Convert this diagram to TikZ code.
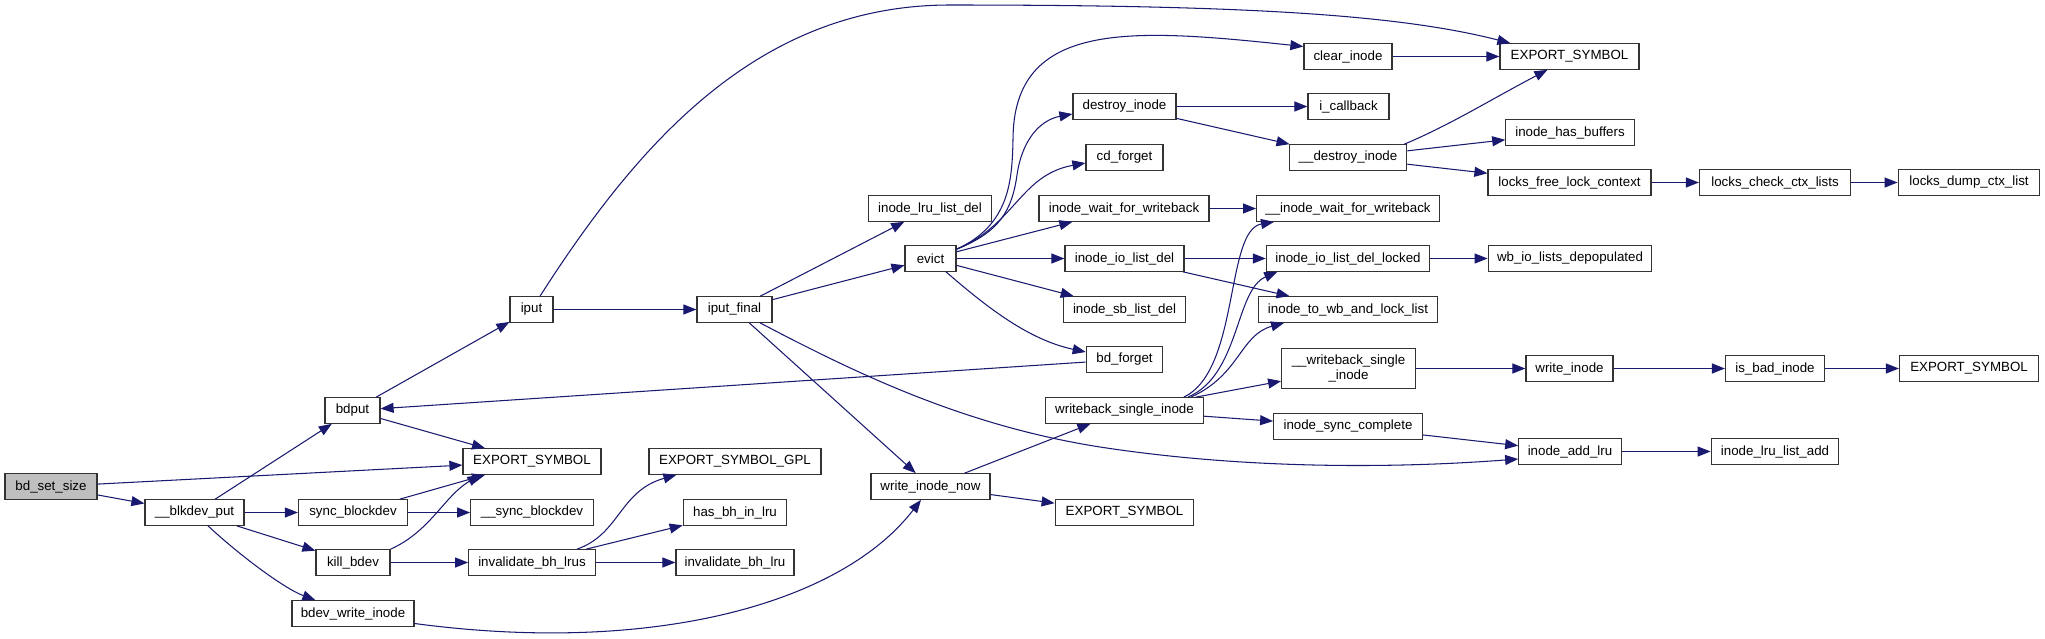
\documentclass[tikz,border=0pt]{standalone}
\usepackage{fontspec}
\setmainfont{Liberation Sans}
\usetikzlibrary{arrows.meta,calc}
\definecolor{edgec}{HTML}{191970}
\definecolor{boxc}{HTML}{333333}
\begin{document}
\begin{tikzpicture}[x=1pt,y=-1pt,
  box/.style={draw=boxc, line width=1.2pt, fill=white, inner sep=0pt,
    minimum height=25.5pt, align=center, font=\fontsize{13.33pt}{14.5pt}\selectfont},
  e/.style={draw=edgec, line width=1.05pt, -{Triangle[length=13pt,width=10pt]}}]
\useasboundingbox[fill=white] (0,0) rectangle (2045,638);
% nodes
\node[box,minimum width=92pt,fill=black!25] (bss) at (51,486.5) {bd\_set\_size};
\node[box,minimum width=99pt] (bkp) at (194.5,512.5) {\_\_blkdev\_put};
\node[box,minimum width=55pt] (bdp) at (352.5,410.5) {bdput};
\node[box,minimum width=43pt] (iput) at (531.5,309.5) {iput};
\node[box,minimum width=138pt] (exa) at (532,461.5) {EXPORT\_SYMBOL};
\node[box,minimum width=109pt] (syb) at (353,512.5) {sync\_blockdev};
\node[box,minimum width=122.5pt] (ssb) at (532,512.5) {\_\_sync\_blockdev};
\node[box,minimum width=74pt] (kbd) at (353,562.5) {kill\_bdev};
\node[box,minimum width=126.5pt] (ibls) at (532,562.5) {invalidate\_bh\_lrus};
\node[box,minimum width=122pt] (bwi) at (353,613.5) {bdev\_write\_inode};
\node[box,minimum width=75pt] (ipf) at (734.5,309.5) {iput\_final};
\node[box,minimum width=172pt] (esg) at (735,461.5) {EXPORT\_SYMBOL\_GPL};
\node[box,minimum width=103.5pt] (hbl) at (735,512.5) {has\_bh\_in\_lru};
\node[box,minimum width=118pt] (ibl) at (735,562.5) {invalidate\_bh\_lru};
\node[box,minimum width=122.5pt] (illd) at (930,208.5) {inode\_lru\_list\_del};
\node[box,minimum width=51pt] (evict) at (930.5,258.5) {evict};
\node[box,minimum width=119pt] (win) at (930.5,486.5) {write\_inode\_now};
\node[box,minimum width=103pt] (dsi) at (1124.5,106.5) {destroy\_inode};
\node[box,minimum width=77pt] (cdf) at (1124.5,157.5) {cd\_forget};
\node[box,minimum width=170pt] (iwfw) at (1124,208.5) {inode\_wait\_for\_writeback};
\node[box,minimum width=119pt] (iild) at (1124.5,258.5) {inode\_io\_list\_del};
\node[box,minimum width=122.5pt] (isld) at (1124.5,309.5) {inode\_sb\_list\_del};
\node[box,minimum width=76.5pt] (bdf) at (1124.5,359.5) {bd\_forget};
\node[box,minimum width=157.5pt] (wsi) at (1124.5,410.5) {writeback\_single\_inode};
\node[box,minimum width=138.6pt] (exb) at (1124.5,512.5) {EXPORT\_SYMBOL};
\node[box,minimum width=88pt] (cli) at (1348,56.5) {clear\_inode};
\node[box,minimum width=81pt] (icb) at (1348.5,106.5) {i\_callback};
\node[box,minimum width=117.5pt] (udi) at (1348,157.5) {\_\_destroy\_inode};
\node[box,minimum width=182.7pt] (uiw) at (1348,208.5) {\_\_inode\_wait\_for\_writeback};
\node[box,minimum width=163.3pt] (iidl) at (1348,258.5) {inode\_io\_list\_del\_locked};
\node[box,minimum width=178.7pt] (itw) at (1348,309.5) {inode\_to\_wb\_and\_lock\_list};
\node[box,minimum width=133.6pt,minimum height=40.3pt] (uwsi) at (1348.5,368.5) {\_\_writeback\_single\\\_inode};
\node[box,minimum width=148.6pt] (isc) at (1348,426.5) {inode\_sync\_complete};
\node[box,minimum width=139pt] (exc) at (1569.5,56.5) {EXPORT\_SYMBOL};
\node[box,minimum width=128.4pt] (ihb) at (1570,132.5) {inode\_has\_buffers};
\node[box,minimum width=163pt] (lflc) at (1569.5,182.5) {locks\_free\_lock\_context};
\node[box,minimum width=163.6pt] (wild) at (1570,258.5) {wb\_io\_lists\_depopulated};
\node[box,minimum width=87pt] (wri) at (1569.5,368.5) {write\_inode};
\node[box,minimum width=102.5pt] (ial) at (1570,451.5) {inode\_add\_lru};
\node[box,minimum width=151pt] (lccl) at (1775,182.5) {locks\_check\_ctx\_lists};
\node[box,minimum width=99pt] (ibi) at (1775,368.5) {is\_bad\_inode};
\node[box,minimum width=127.6pt] (illa) at (1775,451.5) {inode\_lru\_list\_add};
\node[box,minimum width=141.6pt] (ldcl) at (1969,182.5) {locks\_dump\_ctx\_list};
\node[box,minimum width=139pt] (exd) at (1969,368.5) {EXPORT\_SYMBOL};
% straight edges
\foreach \a/\b in {bss/exa, bss/bkp, bkp/bdp, bkp/syb, bkp/kbd, bdp/iput, bdp/exa,
  syb/exa, syb/ssb, kbd/ibls, ibls/hbl, ibls/ibl, iput/ipf, ipf/illd, ipf/evict,
  ipf/win, bdf/bdp, evict/iwfw, evict/iild, evict/isld, cli/exc, dsi/icb, dsi/udi,
  udi/ihb, udi/lflc, lflc/lccl, lccl/ldcl, iwfw/uiw, iild/iidl, iild/itw, iidl/wild,
  win/wsi, win/exb, wsi/uwsi, wsi/isc, uwsi/wri, wri/ibi, ibi/exd, isc/ial, ial/illa}
  \draw[e] (\a) -- (\b);
% curved edges
\draw[e] ($(bkp.south)+(13.5,0)$) .. controls +(30,28) and +(-32,-12) .. ($(bwi.north west)+(24,0)$);
\draw[e] (kbd.north east) .. controls +(40,-18) and +(-36,21) .. ($(exa.south west)+(18,0)$);
\draw[e] ($(ibls.north)+(45,0)$) .. controls +(43,-15) and +(-57,16) .. ($(esg.south west)+(28,0)$);
\draw[e] ($(bwi.east)+(0,10)$) .. controls (650,655) and (840,605) .. ($(win.south)+(-9.5,0)$);
\draw[e] ($(iput.north)+(8.5,0)$) .. controls (640,140) and (760,5) .. (950,5)
  .. controls (1250,5) and (1400,15) .. ($(exc.north west)+(11,0)$);
\draw[e] ($(ipf.south)+(25.5,0)$) .. controls (850,370) and (960,425) .. (1100,447)
  .. controls (1250,470) and (1400,468) .. ($(ial.west)+(0,7.5)$);
\draw[e] ($(evict.north east)+(0,4)$) .. controls (1010,225) and (1012,180) .. (1013,140)
  .. controls (1013,20) and (1130,28) .. ($(cli.west)+(0,-10)$);
\draw[e] ($(evict.north east)+(0,4)$) .. controls (1000,232) and (1012,210) .. (1017,175)
  .. controls (1022,140) and (1040,120) .. ($(dsi.west)+(0,7.5)$);
\draw[e] ($(evict.north east)+(0,4)$) .. controls (1015,225) and (1020,175) .. ($(cdf.west)+(0,5.5)$);
\draw[e] ($(evict.south)+(15.5,0)$) .. controls (990,310) and (1030,340) .. ($(bdf.west)+(0,-7.5)$);
\draw[e] ($(wsi.north east)+(-20,0)$) .. controls (1240,370) and (1225,230) .. ($(uiw.south west)+(18,0)$);
\draw[e] ($(wsi.north east)+(-16,0)$) .. controls (1240,375) and (1235,290) .. ($(iidl.south west)+(11.5,0)$);
\draw[e] ($(wsi.north east)+(-13,0)$) .. controls (1240,375) and (1240,335) .. ($(itw.south west)+(26,0)$);
\draw[e] ($(udi.north east)+(-3,0)$) .. controls (1450,125) and (1490,100) .. ($(exc.south west)+(48,0)$);
\end{tikzpicture}
\end{document}
